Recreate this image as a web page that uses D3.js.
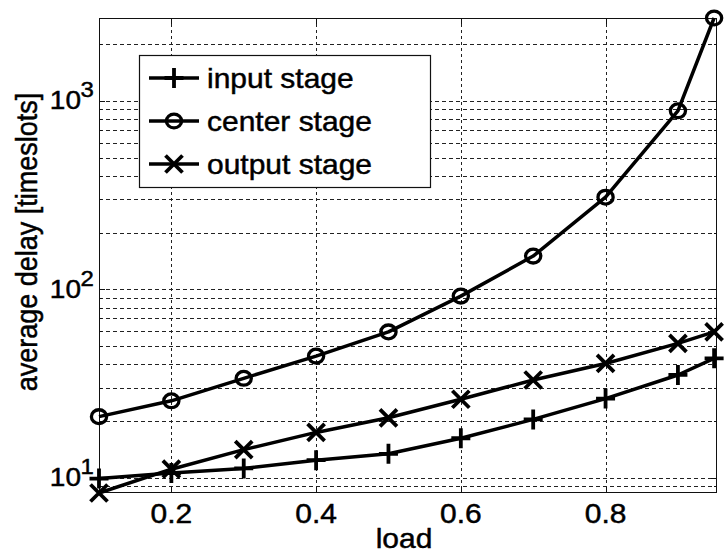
<!DOCTYPE html>
<html>
<head>
<meta charset="utf-8">
<script src="https://cdn.jsdelivr.net/npm/d3@7"></script>
<style>
  body { margin: 0; background: #fff; }
  text { font-family: "Liberation Sans", Arial, Helvetica, sans-serif; fill: #000; stroke: #000; stroke-width: 0.5px; }
</style>
</head>
<body>
<svg id="chart" width="724" height="560"></svg>
<script>
// Average delay per switch stage versus offered load
const loads       = [0.1, 0.2, 0.3, 0.4, 0.5, 0.6, 0.7, 0.8, 0.9, 0.95];
const inputStage  = [9.9, 10.6, 11.2, 12.4, 13.4, 16.2, 20.4, 26.3, 35.1, 43];
const centerStage = [21.1, 25.6, 33.7, 44.2, 59.4, 92, 150, 308, 885, 2750];
const outputStage = [8.3, 11.1, 14.1, 17.4, 20.8, 26.1, 33, 40.4, 51.6, 59.4];

const seriesNames = ["input stage", "center stage", "output stage"];
const seriesMarks = ["plus", "circle", "times"];
const xTickValues = [0.2, 0.4, 0.6, 0.8];
const yDecades    = [1, 2, 3];
const xLabel = "load";
const yLabel = "average delay [timeslots]";

const series = [inputStage, centerStage, outputStage].map((vals, i) => ({
  name: seriesNames[i], mark: seriesMarks[i],
  points: vals.map((v, j) => ({ x: loads[j], y: v }))
}));

const plot = { left: 99, right: 717, top: 18, bottom: 493 };
const squash = 0.9;   // glyphs are drawn slightly compressed vertically
const fontSize = 30;

const svg = d3.select("#chart");

const allValues = inputStage.concat(centerStage, outputStage);
const x = d3.scaleLinear().domain([0.1, 0.954]).range([plot.left, plot.right]);
const y = d3.scaleLog().domain([d3.min(allValues), d3.max(allValues)]).range([plot.bottom, plot.top]);

// grid: dashed lines at every decade subdivision, plus major x ticks
const [yLo, yHi] = y.domain();
const yGridValues = [];
for (let e = Math.floor(Math.log10(yLo)); e <= Math.ceil(Math.log10(yHi)); e++) {
  for (let m = 1; m <= 9; m++) {
    const v = m * Math.pow(10, e);
    if (v >= yLo && v <= yHi) yGridValues.push(v);
  }
}

const grid = svg.append("g").attr("stroke", "#222").attr("stroke-width", 1).attr("fill", "none");
grid.selectAll("line.hg").data(yGridValues).join("line")
  .attr("class", "hg")
  .attr("x1", plot.left).attr("x2", plot.right)
  .attr("y1", d => Math.round(y(d)) + 0.5).attr("y2", d => Math.round(y(d)) + 0.5)
  .attr("stroke-dasharray", "4,3");
grid.selectAll("line.vg").data(xTickValues).join("line")
  .attr("class", "vg")
  .attr("x1", d => Math.round(x(d)) + 0.5).attr("x2", d => Math.round(x(d)) + 0.5)
  .attr("y1", plot.top).attr("y2", plot.bottom)
  .attr("stroke-dasharray", "3,3");

// axes box with inward ticks
const axes = svg.append("g").attr("stroke", "#111").attr("stroke-width", 1).attr("fill", "none");
axes.append("rect")
  .attr("x", plot.left + 0.5).attr("y", plot.top + 0.5)
  .attr("width", plot.right - plot.left - 1).attr("height", plot.bottom - plot.top - 1);

xTickValues.forEach(v => {
  const px = Math.round(x(v)) + 0.5;
  axes.append("line").attr("x1", px).attr("x2", px).attr("y1", plot.bottom).attr("y2", plot.bottom - 6);
  axes.append("line").attr("x1", px).attr("x2", px).attr("y1", plot.top).attr("y2", plot.top + 6);
});
yGridValues.forEach(v => {
  const py = Math.round(y(v)) + 0.5;
  const major = Math.abs(Math.log10(v) - Math.round(Math.log10(v))) < 1e-9;
  const len = major ? 6 : 3;
  axes.append("line").attr("x1", plot.left).attr("x2", plot.left + len).attr("y1", py).attr("y2", py);
  axes.append("line").attr("x1", plot.right).attr("x2", plot.right - len).attr("y1", py).attr("y2", py);
});

// text helper: places text at (px,py), compressed vertically
function label(g, px, py, str, anchor, size) {
  return g.append("text")
    .attr("transform", `translate(${px},${py}) scale(1,${squash})`)
    .attr("text-anchor", anchor)
    .attr("font-size", size)
    .text(str);
}

const labels = svg.append("g");
xTickValues.forEach(v => label(labels, x(v), 523, d3.format(".1f")(v), "middle", fontSize));

yDecades.forEach(e => {
  const py = y(Math.pow(10, e));
  label(labels, 81, py + 8.5, "10", "end", 28);
  label(labels, 80.5, py - 3.5, String(e), "start", 24);
});

label(labels, 404, 548, xLabel, "middle", fontSize);
labels.append("text")
  .attr("transform", `translate(36.5,242) scale(1,${squash}) rotate(-90)`)
  .attr("text-anchor", "middle")
  .attr("font-size", fontSize)
  .text(yLabel);

// marker shapes
function drawMarker(g, kind, cx, cy) {
  if (kind === "circle") {
    g.append("ellipse").attr("cx", cx).attr("cy", cy).attr("rx", 7.6).attr("ry", 6.9)
      .attr("fill", "none").attr("stroke", "#000").attr("stroke-width", 3.3);
  } else if (kind === "plus") {
    g.append("path").attr("d", `M${cx - 9.5},${cy}H${cx + 9.5}M${cx},${cy - 10}V${cy + 10}`)
      .attr("fill", "none").attr("stroke", "#000").attr("stroke-width", 3.8);
  } else {
    g.append("path").attr("d", `M${cx - 8.5},${cy - 8.5}L${cx + 8.5},${cy + 8.5}M${cx - 8.5},${cy + 8.5}L${cx + 8.5},${cy - 8.5}`)
      .attr("fill", "none").attr("stroke", "#000").attr("stroke-width", 3.8);
  }
}

// data lines and markers
const lineGen = d3.line().x(d => x(d.x)).y(d => y(d.y));
const dataG = svg.append("g");
series.forEach(s => {
  dataG.append("path").datum(s.points).attr("d", lineGen)
    .attr("fill", "none").attr("stroke", "#000").attr("stroke-width", 3.5)
    .attr("stroke-linejoin", "round");
  s.points.forEach(p => drawMarker(dataG, s.mark, x(p.x), y(p.y)));
});

// legend
const legend = svg.append("g");
legend.append("rect").attr("x", 139.5).attr("y", 55.5).attr("width", 291).attr("height", 132)
  .attr("fill", "#fff").attr("stroke", "#111").attr("stroke-width", 1.2);
series.forEach((s, i) => {
  const cy = 78 + i * 43;
  legend.append("line").attr("x1", 149).attr("x2", 199).attr("y1", cy).attr("y2", cy)
    .attr("stroke", "#000").attr("stroke-width", 3.5);
  drawMarker(legend, s.mark, 174, cy);
  label(legend, 207, cy + 10, s.name, "start", fontSize);
});
</script>
</body>
</html>
